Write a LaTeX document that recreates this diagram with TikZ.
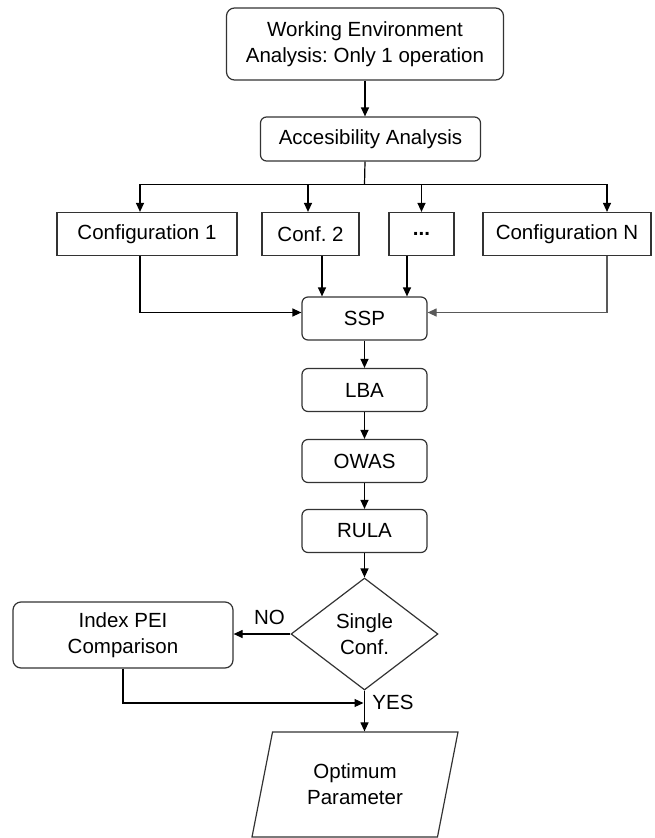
\documentclass[tikz,border=0pt]{standalone}
\usepackage{fontspec}
\setmainfont{Liberation Sans}
\usetikzlibrary{shapes.geometric,arrows.meta}
\frenchspacing

\begin{document}
\begin{tikzpicture}[x=1pt,y=-1pt]
        \useasboundingbox (0,0) rectangle (654,838);
        \begin{scope}[every node/.style={draw=black!80, line width=1.2pt, align=center, inner sep=1, font=\fontsize{20.5}{26}\selectfont}]
                \node [rounded corners=8pt, minimum width=277, minimum height=72] (env) at (365,44) {Working Environment\\Analysis: Only 1 operation};
                \node [rounded corners=6pt, minimum width=220, minimum height=44] (acc) at (370.5,139) {Accesibility Analysis};
                \node [minimum width=180, minimum height=43] (c1) at (147,234) {Configuration 1};
                \node [minimum width=97, minimum height=43] (c2) at (310.5,234) {Conf. 2};
                \node [minimum width=65, minimum height=43] (cdots) at (421.5,234) {\textbf{...}};
                \node [minimum width=168, minimum height=43] (cN) at (567,234) {Configuration N};
                \node [rounded corners=6pt, minimum width=125, minimum height=43] (ssp) at (364.5,318.5) {SSP};
                \node [rounded corners=6pt, minimum width=125, minimum height=43] (lba) at (364.5,390) {LBA};
                \node [rounded corners=6pt, minimum width=125, minimum height=43] (owas) at (364.5,461) {OWAS};
                \node [rounded corners=6pt, minimum width=125, minimum height=43] (rula) at (364.5,531) {RULA};
                \node [diamond, minimum width=147, minimum height=112, shape aspect=1.3] (single) at (364.5,634) {Single\\Conf.};
                \node [rounded corners=8pt, minimum width=220, minimum height=66] (pei) at (123,635) {Index PEI\\Comparison};
                \node [trapezium, trapezium left angle=64.5, trapezium right angle=115.5, trapezium stretches body, minimum width=206, minimum height=105] (opt) at (355,784.5) {Optimum\\Parameter};
        \end{scope}

        \begin{scope}[line width=1.2pt, >={Triangle[length=9pt,width=8pt]}, every node/.style={font=\fontsize{20.5}{26}\selectfont}]
                \coordinate (split) at (364.5,184.5);
                \coordinate (merge) at (364.5,703);
                \draw[->] (env.south) -- (env.south |- acc.north);
                \draw (env.south |- acc.south) -- (split);
                \draw[->] (split) -| ([xshift=-7pt]c1.north);
                \draw[->] (split) -| ([xshift=-2.5pt]c2.north);
                \draw[->] (split) -| (cdots.north);
                \draw[->] (split) -| ([xshift=40pt]cN.north);
                \draw[->] ([xshift=-7pt]c1.south) |- ([yshift=6pt]ssp.west);
                \draw[->] ([xshift=11.5pt]c2.south) -- ([xshift=11.5pt]c2.south |- ssp.north);
                \draw[->] ([xshift=-14.5pt]cdots.south) -- ([xshift=-14.5pt]cdots.south |- ssp.north);
                \draw[->, draw=black!65] ([xshift=40pt]cN.south) |- ([yshift=6pt]ssp.east);
                \draw[->] (ssp) -- (lba);
                \draw[->] (lba) -- (owas);
                \draw[->] (owas) -- (rula);
                \draw[->] (rula) -- (single);
                \draw[->] (single.west) -- node[pos=.37, above=5pt] {NO} (single.west -| pei.east);
                \draw[->] (single.south) -- node[pos=.3, right=4pt] {YES} (single.south |- opt.north);
                \draw[->] (pei.south) |- ([xshift=-1pt]merge);
        \end{scope}
\end{tikzpicture}
\end{document}
